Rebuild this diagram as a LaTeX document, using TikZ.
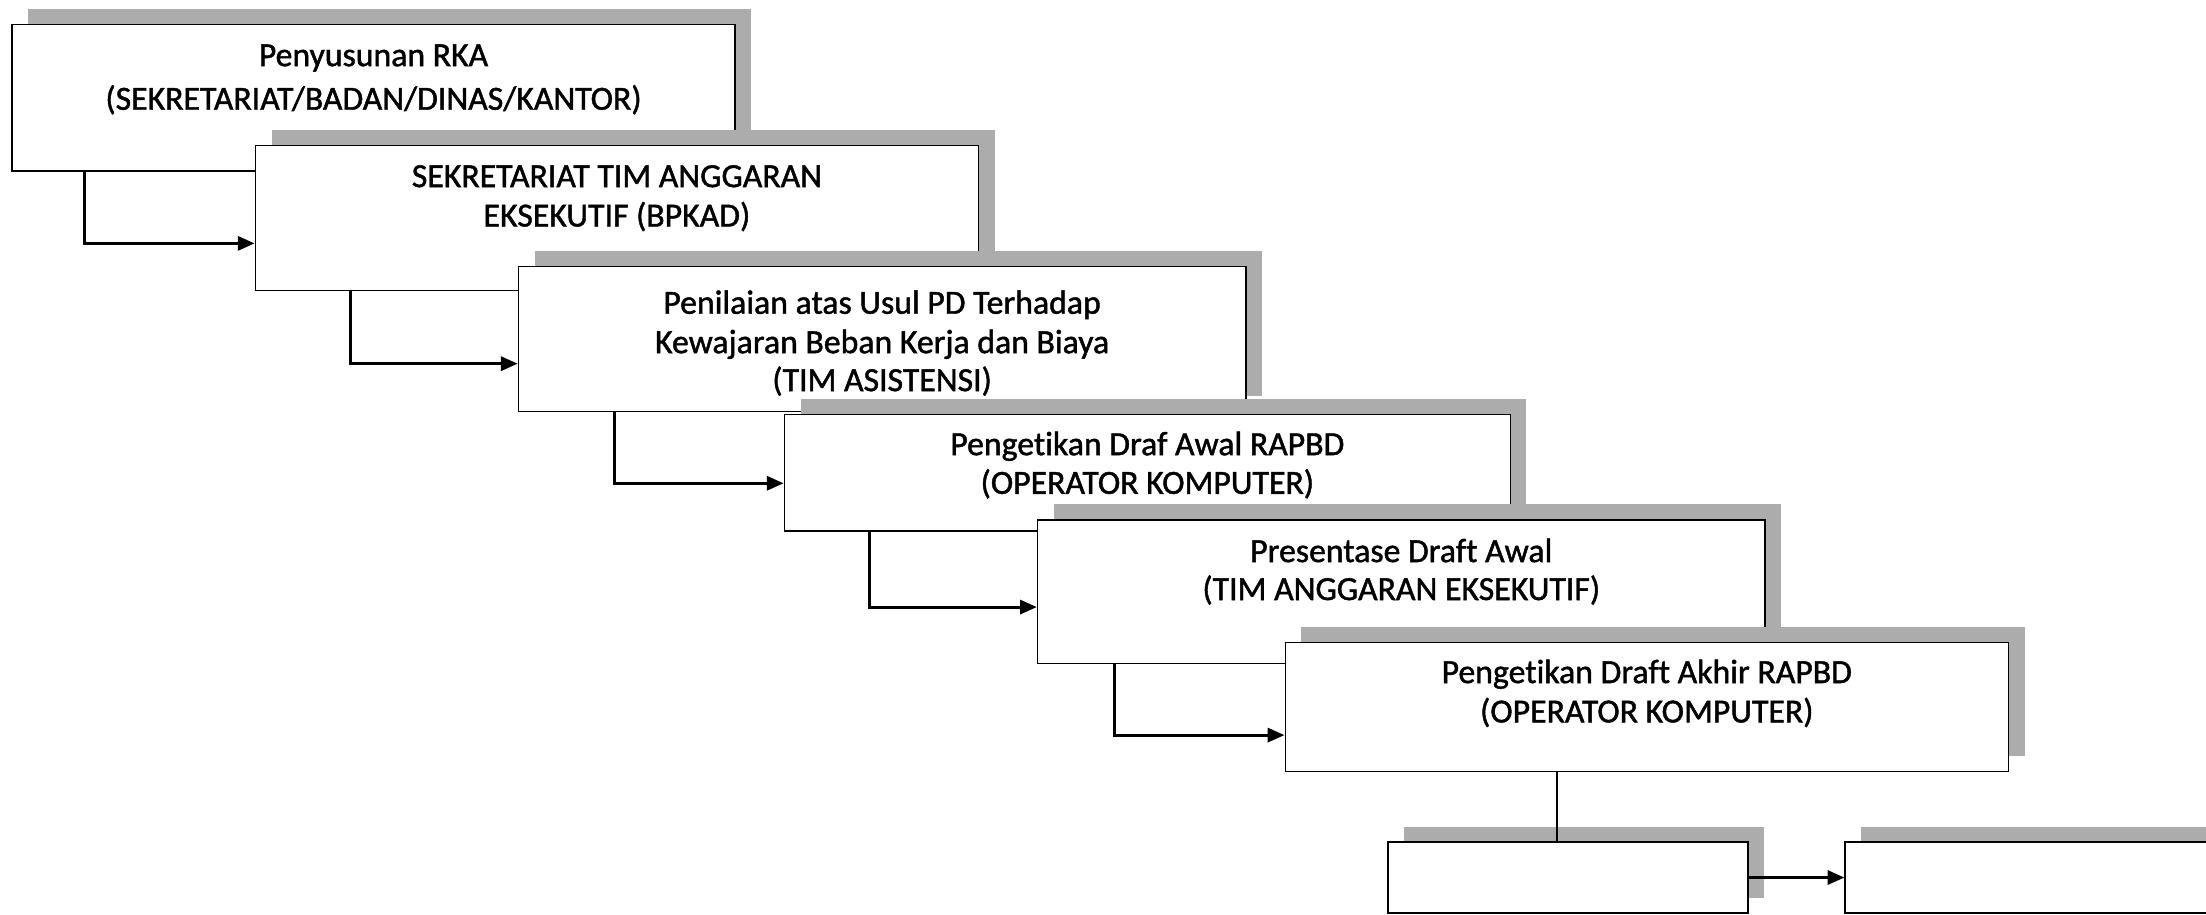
\documentclass[tikz,border=0pt]{standalone}
\usepackage{fontspec}
\setmainfont{Carlito}[Ligatures=NoCommon, BoldFont=Carlito, BoldFeatures={FakeBold=1.3}]
\usetikzlibrary{arrows.meta}
\definecolor{shadowgray}{RGB}{172,172,172}
\newcommand\ShadowBox[5]{%
  \fill[shadowgray] ({#2+12},{#3-10.5}) rectangle ({#4+12},{#5-10.5});
  \node[stepbox, minimum width={(#4-#2)*1pt}, minimum height={(#5-#3)*1pt}] (#1) at (#2,#3) {};
}
\begin{document}
\begin{tikzpicture}[x=1pt,y=-1pt,
  stepbox/.style={draw=black, line width=1pt, fill=white, rectangle, inner sep=0pt, anchor=north west},
  lbl/.style={font=\fontsize{24}{28}\selectfont\bfseries, anchor=base, inner sep=0pt},
  arr/.style={line width=2.2pt, -{Triangle[length=12pt,width=10pt]}},
  link/.style={line width=1.2pt}
]
\useasboundingbox (0,0) rectangle (1568,650);
\fill[white] (0,0) rectangle (1568,650);
\clip (0,0) rectangle (1568,650);

\ShadowBox{b1}{8}{17}{522}{121}
\ShadowBox{b2}{181}{103}{695}{206}
\ShadowBox{b3}{368}{189}{885}{292}
\ShadowBox{b4}{557}{294}{1073}{377}
\ShadowBox{b5}{737}{369}{1254}{471}
\ShadowBox{b6}{913}{456}{1427}{548}
\ShadowBox{b7}{986}{598}{1242}{648.5}
\ShadowBox{b8}{1311}{598}{1640}{648.5}

\node[lbl] (t1a) at ([yshift=-30pt]b1.north) {Penyusunan RKA};
\node[lbl] (t1b) at ([yshift=-61pt]b1.north) {(SEKRETARIAT/BADAN/DINAS/KANTOR)};
\node[lbl] (t2a) at ([yshift=-30pt]b2.north) {SEKRETARIAT TIM ANGGARAN};
\node[lbl] (t2b) at ([yshift=-58pt]b2.north) {EKSEKUTIF (BPKAD)};
\node[lbl] (t3a) at ([yshift=-34pt]b3.north) {Penilaian atas Usul PD Terhadap};
\node[lbl] (t3b) at ([yshift=-62pt]b3.north) {Kewajaran Beban Kerja dan Biaya};
\node[lbl] (t3c) at ([yshift=-89pt]b3.north) {(TIM ASISTENSI)};
\node[lbl] (t4a) at ([yshift=-29.5pt]b4.north) {Pengetikan Draf Awal RAPBD};
\node[lbl] (t4b) at ([yshift=-57pt]b4.north) {(OPERATOR KOMPUTER)};
\node[lbl] (t5a) at ([yshift=-30.5pt]b5.north) {Presentase Draft Awal};
\node[lbl] (t5b) at ([yshift=-57.5pt]b5.north) {(TIM ANGGARAN EKSEKUTIF)};
\node[lbl] (t6a) at ([yshift=-29.5pt]b6.north) {Pengetikan Draft Akhir RAPBD};
\node[lbl] (t6b) at ([yshift=-57.5pt]b6.north) {(OPERATOR KOMPUTER)};

\draw[arr] ([xshift=52pt]b1.south west) |- ([yshift=-18pt]b2.west);
\draw[arr] ([xshift=68pt]b2.south west) |- ([yshift=-17.5pt]b3.west);
\draw[arr] ([xshift=69pt]b3.south west) |- ([yshift=-7.5pt]b4.west);
\draw[arr] ([xshift=61pt]b4.south west) |- ([yshift=-11pt]b5.west);
\draw[arr] ([xshift=55pt]b5.south west) |- ([yshift=-20pt]b6.west);
\draw[link] ([xshift=193.5pt]b6.south west) -- ([xshift=193.5pt]b6.south west |- b7.north);
\draw[arr] (b7.east) -- (b7.east -| b8.west);
\end{tikzpicture}
\end{document}
